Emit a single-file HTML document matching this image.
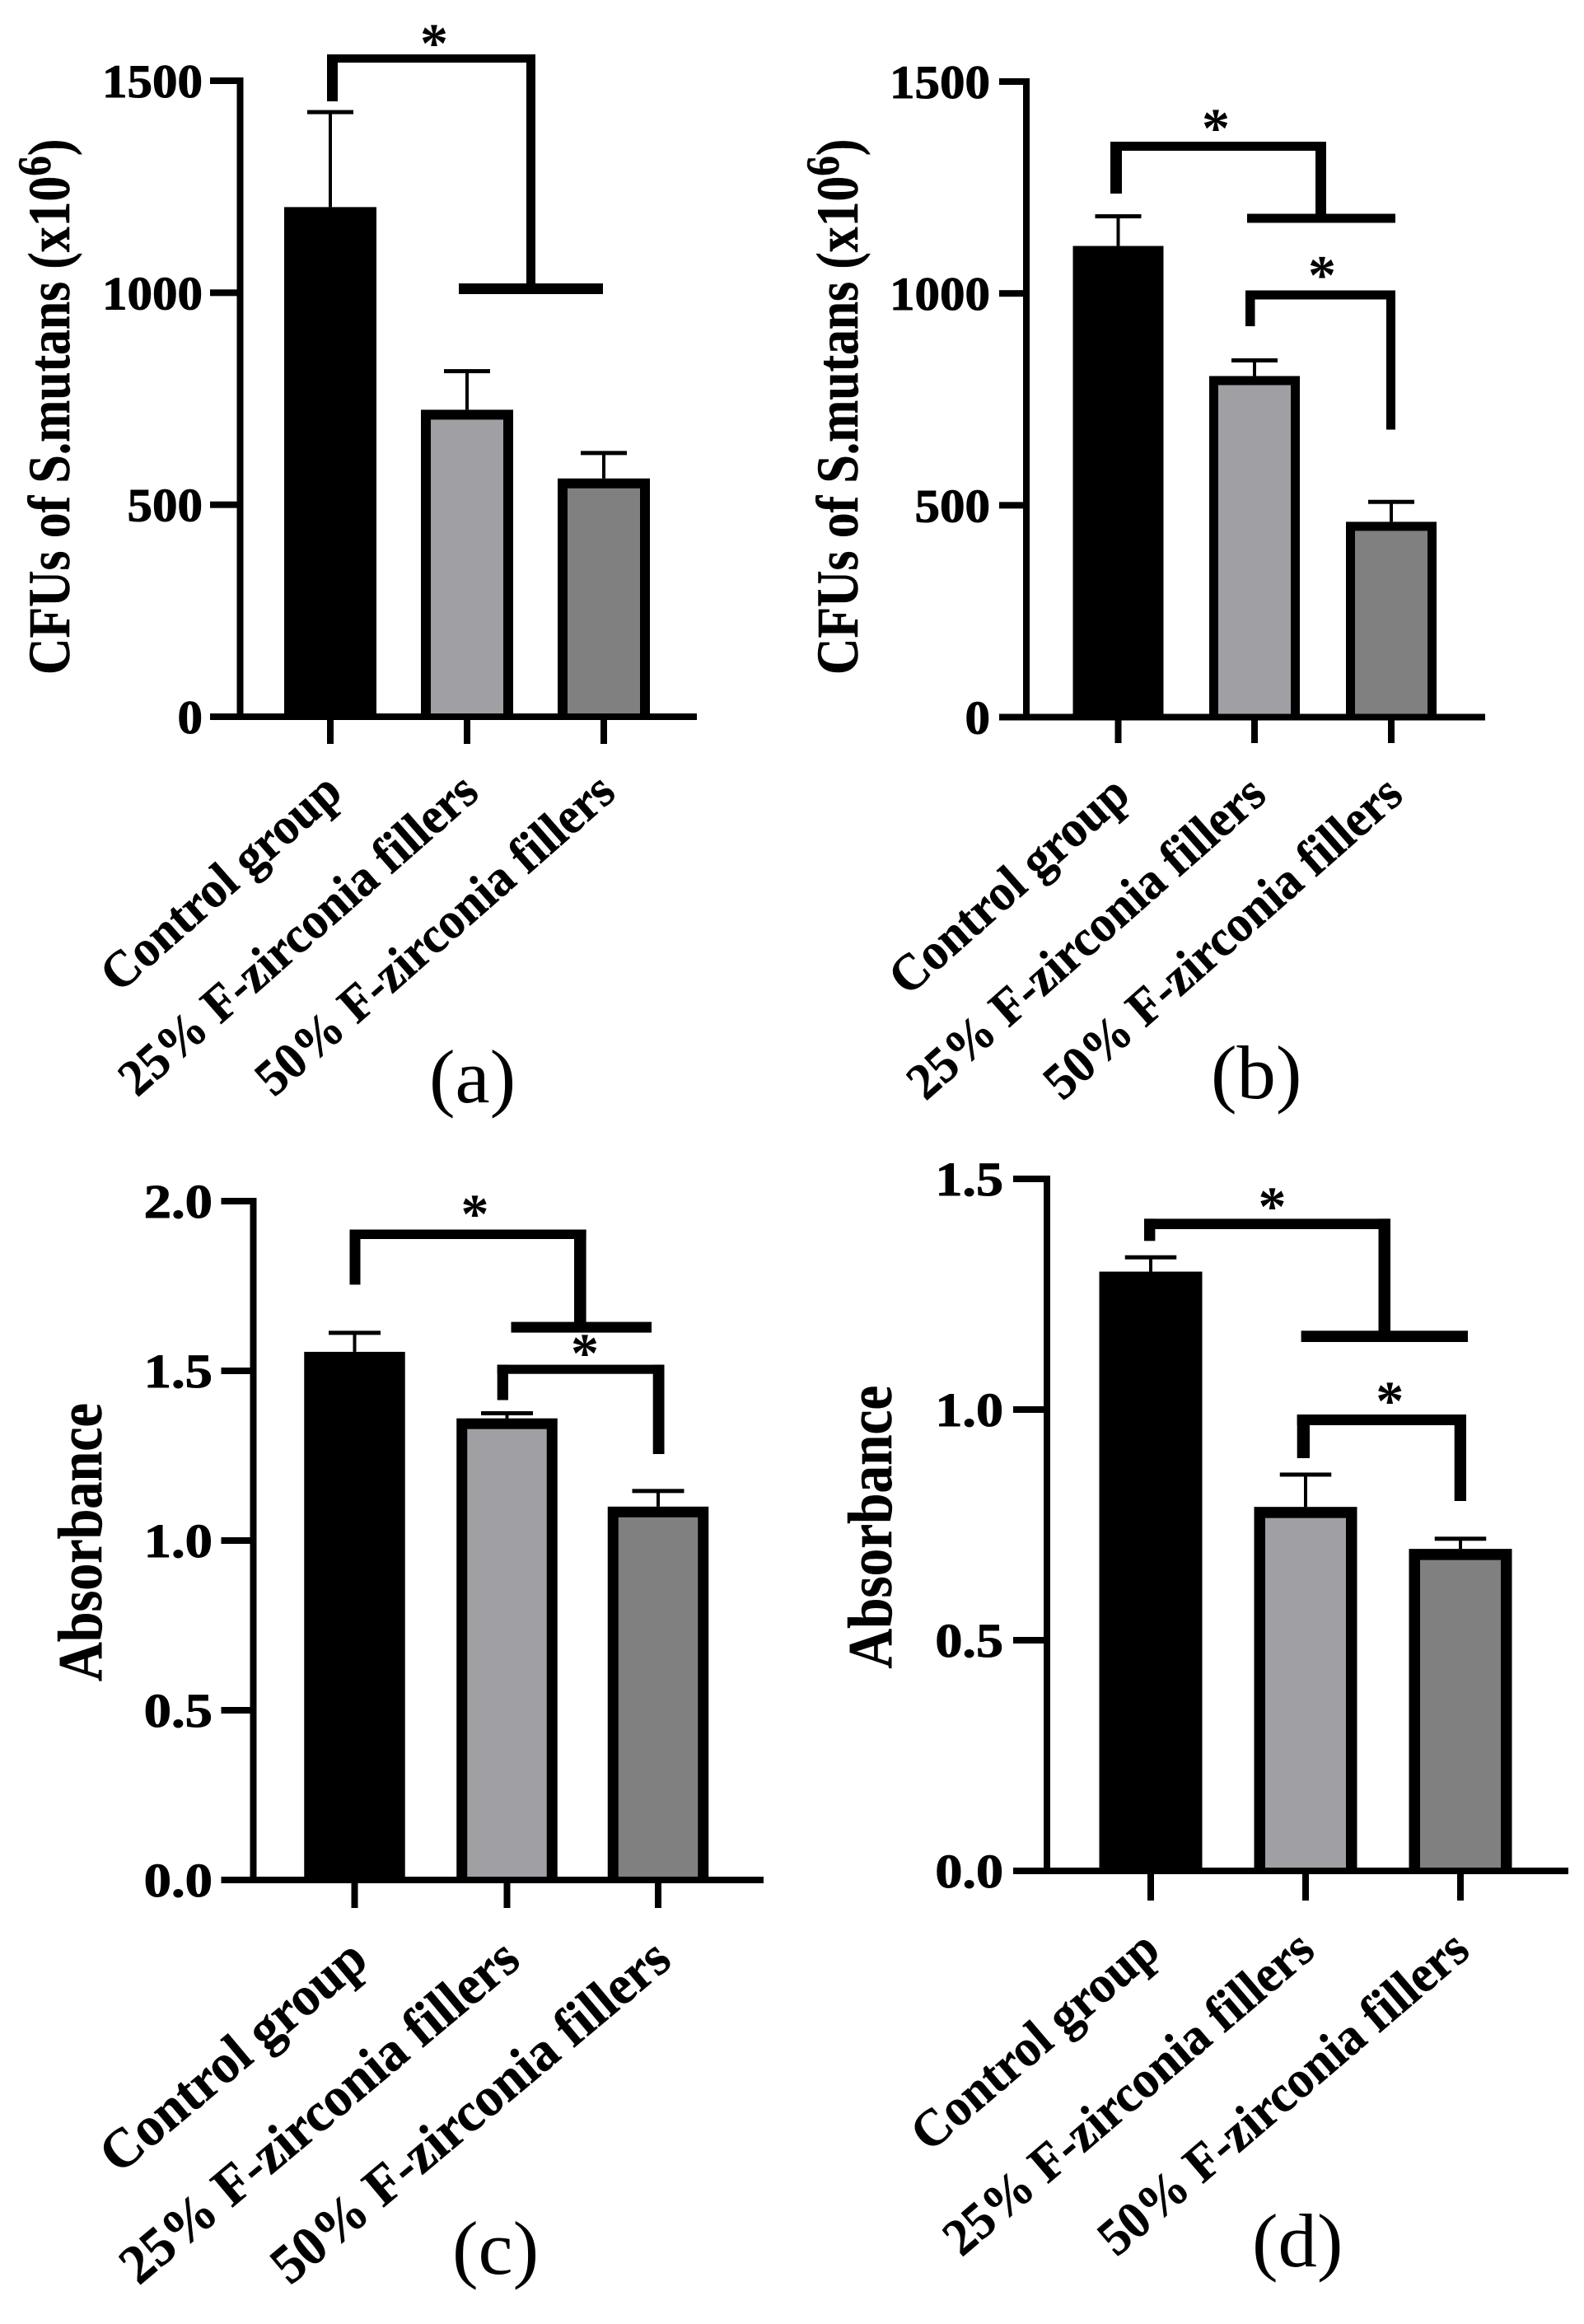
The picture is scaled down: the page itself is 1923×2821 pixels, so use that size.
<!DOCTYPE html>
<html lang="en">
<head>
<meta charset="utf-8">
<title>CFU and absorbance bar charts</title>
<style>
html,body{margin:0;padding:0;background:#fff;}
svg{display:block;}
text{font-family:"Liberation Serif",serif;fill:#000;}
.heavy{stroke:#000;stroke-width:1;}
.semi{stroke:#000;stroke-width:0.5;}
</style>
</head>
<body>
<svg id="figure" xmlns="http://www.w3.org/2000/svg" width="1923" height="2821" viewBox="0 0 1923 2821"></svg>
<script>
// ---- chart data ----
const categories = ["Control group", "25% F-zirconia fillers", "50% F-zirconia fillers"];
const barColors = ["#000000", "#a0a0a4", "#808080"];

const valuesA = [1202, 724, 562];
const errorsA = [224, 91, 60];
const ticksA = [0, 500, 1000, 1500];
const tickLabelsA = ["0", "500", "1000", "1500"];

const valuesB = [1112, 805, 461];
const errorsB = [70, 37, 47];
const ticksB = [0, 500, 1000, 1500];
const tickLabelsB = ["0", "500", "1000", "1500"];

const valuesC = [1.556, 1.36, 1.10];
const errorsC = [0.056, 0.015, 0.046];
const ticksC = [0, 0.5, 1, 1.5, 2];
const tickLabelsC = ["0.0", "0.5", "1.0", "1.5", "2.0"];

const valuesD = [1.299, 0.789, 0.698];
const errorsD = [0.031, 0.07, 0.022];
const ticksD = [0, 0.5, 1, 1.5];
const tickLabelsD = ["0.0", "0.5", "1.0", "1.5"];

// ---- panel layout ----
const panels = [
  {key:"a", values:valuesA, errors:errorsA, ticks:ticksA, tickLabels:tickLabelsA,
   axisX:291.5, tickLeft:255, y0:870, yTop:98, yMax:1500, xRight:846, tickBottom:903,
   centers:[401,567,733], barW:112, border:12, capW:56,
   labelEnd:246, labelSize:57, labelSx:1.07, labelDy:20,
   title:"cfu", titleX:84, titleY:819, titleSize:72, titleSx:0.855,
   catSize:62.5, catSx:0.955, catAngle:41.3, catDx:17, catY:966,
   panelText:"(a)", panelX:521, panelY:1338,
   brackets:[{l:[397,410], r:[639,650], top:[66,76], lBottom:123, rBottom:350, h:{x:[557,732], y:[344,357]}}],
   stars:[[527,44]]},
  {key:"b", values:valuesB, errors:errorsB, ticks:ticksB, tickLabels:tickLabelsB,
   axisX:1246, tickLeft:1213, y0:870.5, yTop:99, yMax:1500, xRight:1803, tickBottom:902,
   centers:[1357.5,1523,1689], barW:110, border:11, capW:56,
   labelEnd:1202, labelSize:57, labelSx:1.07, labelDy:20,
   title:"cfu", titleX:1041, titleY:819, titleSize:72, titleSx:0.855,
   catSize:62.5, catSx:0.955, catAngle:41.5, catDx:17, catY:969,
   panelText:"(b)", panelX:1470, panelY:1333,
   brackets:[{l:[1348,1362], r:[1597,1610], top:[172,183], lBottom:235, rBottom:262, h:{x:[1514,1694], y:[259.5,270.5]}},
             {l:[1512,1523.5], r:[1683,1694], top:[352.5,363.5], lBottom:396, rBottom:521.5}],
   stars:[[1476,147],[1605,325.6]]},
  {key:"c", values:valuesC, errors:errorsC, ticks:ticksC, tickLabels:tickLabelsC,
   axisX:307.5, tickLeft:268.5, y0:2282, yTop:1458, yMax:2, xRight:927, tickBottom:2316,
   centers:[430.5,615.5,799], barW:122.5, border:13, capW:63,
   labelEnd:258, labelSize:58, labelSx:1.15, labelDy:20,
   title:"abs", titleX:123, titleY:2041, titleSize:76, titleSx:0.87,
   catSize:67, catSx:0.975, catAngle:40, catDx:19, catY:2384,
   panelText:"(c)", panelX:549, panelY:2760,
   brackets:[{l:[424.5,437.5], r:[697,711.6], top:[1492.5,1504], lBottom:1559.4, rBottom:1608, h:{x:[620.5,791], y:[1604.6,1617.6]}},
             {l:[603.7,617], r:[792.7,806.5], top:[1656.6,1667.7], lBottom:1699.5, rBottom:1765}],
   stars:[[576.5,1465],[710,1634]]},
  {key:"d", values:valuesD, errors:errorsD, ticks:ticksD, tickLabels:tickLabelsD,
   axisX:1271, tickLeft:1230, y0:2271, yTop:1431, yMax:1.5, xRight:1904, tickBottom:2307,
   centers:[1397,1585,1773], barW:125, border:13.5, capW:62.5,
   labelEnd:1218, labelSize:58, labelSx:1.14, labelDy:20,
   title:"abs", titleX:1082, titleY:2025.5, titleSize:76, titleSx:0.885,
   catSize:63.5, catSx:0.96, catAngle:40.5, catDx:14, catY:2372,
   panelText:"(d)", panelX:1520, panelY:2751,
   brackets:[{l:[1389,1402.4], r:[1673.5,1688], top:[1479.4,1492], lBottom:1506.3, rBottom:1618, h:{x:[1579.6,1782], y:[1615.3,1629]}},
             {l:[1574.7,1590], r:[1765.7,1780], top:[1717,1730], lBottom:1770, rBottom:1822}],
   stars:[[1544.5,1456],[1687.3,1692]]}
];

// ---- drawing ----
const NS = "http://www.w3.org/2000/svg";
const root = document.getElementById("figure");

function rect(parent, x, y, w, h, fill) {
  const r = document.createElementNS(NS, "rect");
  r.setAttribute("x", x);
  r.setAttribute("y", y);
  r.setAttribute("width", Math.max(0, w));
  r.setAttribute("height", Math.max(0, h));
  r.setAttribute("fill", fill);
  parent.appendChild(r);
  return r;
}

function text(parent, str, x, y, size, weight, sx, angle, anchor) {
  const t = document.createElementNS(NS, "text");
  t.setAttribute("transform", "translate(" + x + " " + y + ") rotate(" + (-angle) + ") scale(" + sx + " 1)");
  t.setAttribute("font-size", size);
  t.setAttribute("font-weight", weight);
  t.setAttribute("text-anchor", anchor);
  t.textContent = str;
  parent.appendChild(t);
  return t;
}

panels.forEach(function (p) {
  const g = document.createElementNS(NS, "g");
  
  
  root.appendChild(g);

  const yScale = function (v) { return p.y0 - (v / p.yMax) * (p.y0 - p.yTop); };

  // bars
  p.values.forEach(function (v, i) {
    const cx = p.centers[i];
    const top = yScale(v);
    const outer = rect(g, cx - p.barW / 2, top, p.barW, p.y0 - top, "#000");
    
    
    if (i > 0) {
      const inner = rect(g, cx - p.barW / 2 + p.border, top + p.border, p.barW - 2 * p.border, p.y0 - top - p.border, barColors[i]);
      
      
    }
    // error bar
    const errTop = yScale(v + p.errors[i]);
    const stem = rect(g, cx - 2, errTop, 4, top - errTop, "#000");
    
    
    const cap = rect(g, cx - p.capW / 2, errTop - 2.5, p.capW, 5, "#000");
    
    
    // x tick
    const xt = rect(g, cx - 4, p.y0, 8, p.tickBottom - p.y0, "#000");
    
    
    // category label
    const c = text(g, categories[i], cx + p.catDx, p.catY, p.catSize, "bold", p.catSx, p.catAngle, "end");
    c.setAttribute("class", "semi");
    
    
  });

  // axes
  const yAxis = rect(g, p.axisX - 4, p.yTop - 4, 8, p.y0 - p.yTop + 8, "#000");
  
  
  const xAxis = rect(g, p.tickLeft, p.y0 - 4, p.xRight - p.tickLeft, 8, "#000");
  
  

  p.ticks.forEach(function (v, i) {
    const y = yScale(v);
    const tk = rect(g, p.tickLeft, y - 4, p.axisX - p.tickLeft, 8, "#000");
    
    
    const lb = text(g, p.tickLabels[i], p.labelEnd, y + p.labelDy, p.labelSize, "bold", p.labelSx, 0, "end");
    lb.setAttribute("class", "heavy");
    
    
  });

  // y title
  const title = text(g, "", p.titleX, p.titleY, p.titleSize, "bold", p.titleSx, 90, "start");
  title.setAttribute("class", "semi");
  
  
  if (p.title === "cfu") {
    title.appendChild(document.createTextNode("CFUs of S.mutans (x10"));
    const sup = document.createElementNS(NS, "tspan");
    sup.setAttribute("dy", "-0.4em");
    sup.setAttribute("font-size", "0.8em");
    sup.textContent = "6";
    title.appendChild(sup);
    const close = document.createElementNS(NS, "tspan");
    close.setAttribute("dy", "0.32em");
    close.textContent = ")";
    title.appendChild(close);
  } else {
    title.textContent = "Absorbance";
  }

  // significance brackets
  p.brackets.forEach(function (b, i) {
    const id = p.key + "-" + (i + 1);
    const bt = rect(g, b.l[0], b.top[0], b.r[1] - b.l[0], b.top[1] - b.top[0], "#000");
    
    
    const bl = rect(g, b.l[0], b.top[0], b.l[1] - b.l[0], b.lBottom - b.top[0], "#000");
    
    
    const br = rect(g, b.r[0], b.top[0], b.r[1] - b.r[0], b.rBottom - b.top[0], "#000");
    
    
    if (b.h) {
      const bh = rect(g, b.h.x[0], b.h.y[0], b.h.x[1] - b.h.x[0], b.h.y[1] - b.h.y[0], "#000");
      
      
    }
  });

  p.stars.forEach(function (s, i) {
    const st = text(g, "*", s[0], s[1] + 31, 68, "bold", 1, 0, "middle");
    
    
  });

  const pl = text(g, p.panelText, p.panelX, p.panelY, 92, "normal", 1.03, 0, "start");
  
  
});
</script>
</body>
</html>
